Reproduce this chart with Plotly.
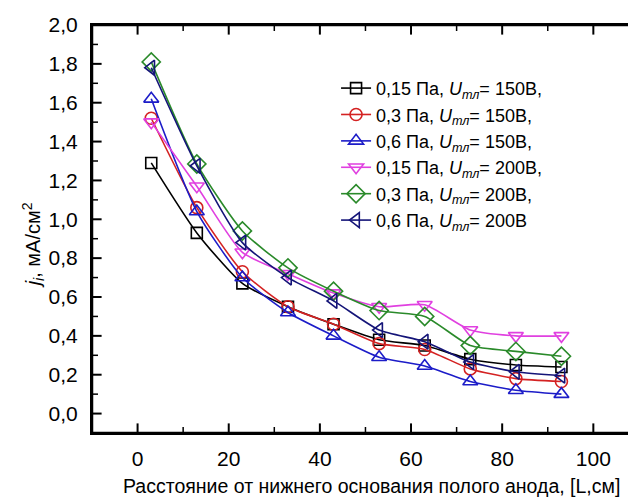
import plotly.graph_objects as go

x_cm = [3, 13, 23, 33, 43, 53, 63, 73, 83, 93]

j_015_150 = [1.29, 0.93, 0.67, 0.55, 0.46, 0.38, 0.35, 0.28, 0.25, 0.24]
j_03_150 = [1.52, 1.06, 0.73, 0.55, 0.46, 0.36, 0.33, 0.23, 0.18, 0.165]
j_06_150 = [1.62, 1.04, 0.70, 0.52, 0.40, 0.29, 0.245, 0.165, 0.12, 0.10]
j_015_200 = [1.50, 1.17, 0.83, 0.72, 0.62, 0.55, 0.56, 0.43, 0.40, 0.40]
j_03_200 = [1.81, 1.285, 0.94, 0.75, 0.63, 0.53, 0.50, 0.35, 0.32, 0.295]
j_06_200 = [1.78, 1.275, 0.88, 0.70, 0.58, 0.43, 0.37, 0.265, 0.215, 0.195]

x_ticks = [0, 20, 40, 60, 80, 100]
x_ticklabels = ["0", "20", "40", "60", "80", "100"]
y_ticks = [0.0, 0.2, 0.4, 0.6, 0.8, 1.0, 1.2, 1.4, 1.6, 1.8, 2.0]
y_ticklabels = ["0,0", "0,2", "0,4", "0,6", "0,8", "1,0", "1,2", "1,4", "1,6", "1,8", "2,0"]
x_minor = [10, 30, 50, 70, 90]
y_minor = [0.1, 0.3, 0.5, 0.7, 0.9, 1.1, 1.3, 1.5, 1.7, 1.9]

x_title = "Расстояние от нижнего основания полого анода, [L,см]"
y_title = "<i>j<sub>i</sub></i>, мА/см<sup>2</sup>"

names = [
    "0,15 Па, <i>U</i><sub><i>тл</i></sub>= 150В,",
    "0,3 Па, <i>U</i><sub><i>тл</i></sub>= 150В,",
    "0,6 Па, <i>U</i><sub><i>тл</i></sub>= 150В,",
    "0,15 Па, <i>U</i><sub><i>тл</i></sub>= 200В,",
    "0,3 Па, <i>U</i><sub><i>тл</i></sub>= 200В,",
    "0,6 Па, <i>U</i><sub><i>тл</i></sub>= 200В",
]
series = [j_015_150, j_03_150, j_06_150, j_015_200, j_03_200, j_06_200]
colors = ["#000000", "#d42222", "#1c1cc8", "#e040e0", "#2a8a2a", "#141478"]
symbols = ["square-open", "circle-open", "triangle-up-open", "triangle-down-open",
           "diamond-open", "triangle-left-open"]
sizes = [11, 12, 13, 13, 14, 13]

X_MIN, X_MAX = -10, 109.8
Y_MIN, Y_MAX = -0.1, 2.0
PX_X = 546 / (X_MAX - X_MIN)   # pixels per x unit
PX_Y = 407.7 / (Y_MAX - Y_MIN)  # pixels per y unit

fig = go.Figure()

# frame (axis box), drawn as a trace with tiny markers at the corners
fig.add_trace(go.Scatter(
    x=[X_MIN, X_MAX, X_MAX, X_MIN, X_MIN], y=[Y_MIN, Y_MIN, Y_MAX, Y_MAX, Y_MIN],
    mode="lines+markers", line=dict(color="black", width=2.5),
    marker=dict(size=2, color="black"), showlegend=False,
    hoverinfo="skip", cliponaxis=False))


def tick_marks(vals, length_px, width, axis):
    xs, ys = [], []
    for v in vals:
        if axis == "x":
            off = (length_px / 2) / PX_Y
            xs += [v, v]
            ys += [Y_MIN + off, Y_MAX - off]
        else:
            off = (length_px / 2) / PX_X
            xs += [X_MIN + off, X_MAX - off]
            ys += [v, v]
    sym = "line-ns" if axis == "x" else "line-ew"
    return go.Scatter(x=xs, y=ys, mode="markers",
                      marker=dict(symbol=sym, size=length_px, color="black",
                                  line=dict(color="black", width=width)),
                      showlegend=False, hoverinfo="skip", cliponaxis=False)


fig.add_trace(tick_marks(x_ticks, 8, 2, "x"))
fig.add_trace(tick_marks(x_minor, 5, 1.5, "x"))
fig.add_trace(tick_marks(y_ticks, 8, 2, "y"))
fig.add_trace(tick_marks(y_minor, 5, 1.5, "y"))

for name, ys, c, s, sz in zip(names, series, colors, symbols, sizes):
    fig.add_trace(go.Scatter(
        x=x_cm, y=ys, name=name, mode="lines+markers",
        line=dict(color=c, width=1.6, shape="spline", smoothing=0.6),
        marker=dict(symbol=s, size=sz, color=c, line=dict(color=c, width=1.6)),
    ))

font_family = "Liberation Sans, Arial, sans-serif"

fig.update_layout(
    width=636, height=497, autosize=False,
    margin=dict(l=84, r=6, t=17, b=72),
    paper_bgcolor="white", plot_bgcolor="white",
    font=dict(family=font_family, color="black", size=17),
    showlegend=True,
    legend=dict(x=0.447, y=0.89, xanchor="left", yanchor="top",
                bgcolor="rgba(0,0,0,0)", borderwidth=0,
                font=dict(size=18, family=font_family),
                tracegroupgap=0, itemwidth=30),
    annotations=[
        dict(text=x_title, xref="paper", yref="paper", x=0.511, y=-0.131,
             xanchor="center", yanchor="middle", showarrow=False,
             font=dict(size=19.5, family=font_family)),
        dict(text=y_title, xref="paper", yref="paper", x=-0.108, y=0.46,
             xanchor="center", yanchor="middle", showarrow=False, textangle=-90,
             font=dict(size=20, family=font_family)),
    ],
)

fig.update_xaxes(
    range=[X_MIN, X_MAX], tickmode="array", tickvals=x_ticks, ticktext=x_ticklabels,
    showgrid=False, zeroline=False,
    showline=True, linecolor="black", linewidth=2, mirror=True, ticks="",
    automargin=False, ticklabelstandoff=6,
    tickfont=dict(size=21),
)
fig.update_yaxes(
    range=[Y_MIN, Y_MAX], tickmode="array", tickvals=y_ticks, ticktext=y_ticklabels,
    showgrid=False, zeroline=False,
    showline=True, linecolor="black", linewidth=2, mirror=True, ticks="",
    automargin=False, ticklabelstandoff=8,
    tickfont=dict(size=21),
)

fig.write_html("out.html")
